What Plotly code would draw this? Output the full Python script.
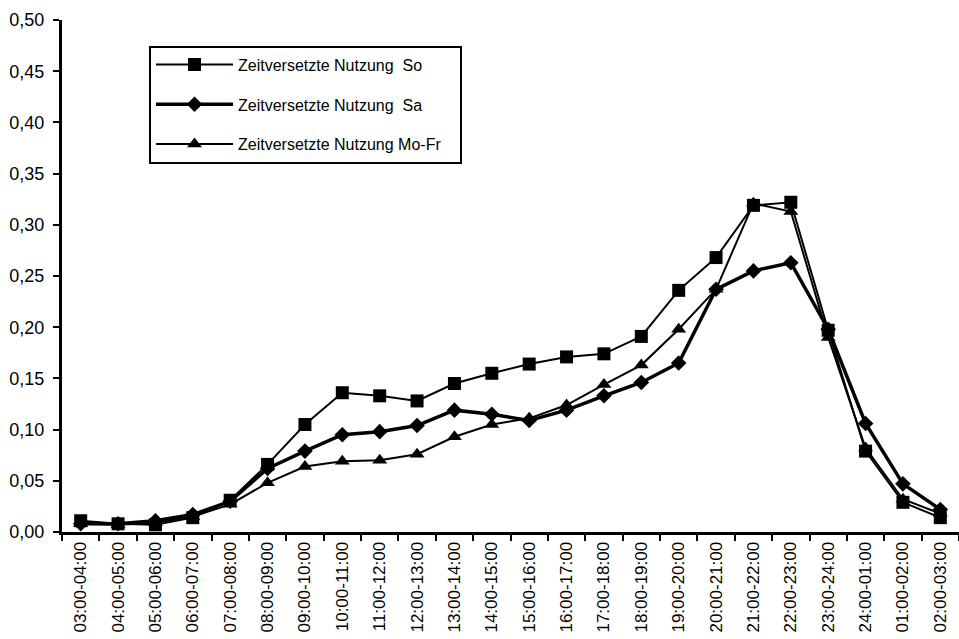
import plotly.graph_objects as go

# Time slots (hourly intervals starting at 03:00)
slots = [
    "03:00-04:00", "04:00-05:00", "05:00-06:00", "06:00-07:00", "07:00-08:00",
    "08:00-09:00", "09:00-10:00", "10:00-11:00", "11:00-12:00", "12:00-13:00",
    "13:00-14:00", "14:00-15:00", "15:00-16:00", "16:00-17:00", "17:00-18:00",
    "18:00-19:00", "19:00-20:00", "20:00-21:00", "21:00-22:00", "22:00-23:00",
    "23:00-24:00", "24:00-01:00", "01:00-02:00", "02:00-03:00",
]

# Share of time-shifted usage per slot
sonntag = [0.011, 0.008, 0.007, 0.014, 0.031, 0.066, 0.105, 0.136, 0.133, 0.128,
           0.145, 0.155, 0.164, 0.171, 0.174, 0.191, 0.236, 0.268, 0.319, 0.322,
           0.197, 0.079, 0.029, 0.014]
samstag = [0.008, 0.008, 0.011, 0.017, 0.030, 0.062, 0.079, 0.095, 0.098, 0.104,
           0.119, 0.115, 0.109, 0.119, 0.133, 0.146, 0.165, 0.237, 0.255, 0.263,
           0.198, 0.106, 0.047, 0.022]
mofr = [0.008, 0.007, 0.009, 0.015, 0.027, 0.048, 0.064, 0.069, 0.070, 0.076,
        0.093, 0.105, 0.111, 0.124, 0.144, 0.163, 0.198, 0.237, 0.321, 0.313,
        0.190, 0.082, 0.032, 0.018]

y_ticks = [0.0, 0.05, 0.10, 0.15, 0.20, 0.25, 0.30, 0.35, 0.40, 0.45, 0.50]

FONT = "Liberation Sans, Arial, sans-serif"
NB = "\u00a0"
PAD = NB * 3

fig = go.Figure()

# Drawn bottom-up so the Sunday squares sit on top
fig.add_trace(go.Scatter(
    x=slots, y=mofr, mode="lines+markers",
    name="Zeitversetzte Nutzung Mo-Fr" + PAD, legendgroup="mofr", legendrank=3,
    line=dict(color="black", width=2),
    marker=dict(symbol="triangle-up", size=13, color="black"),
))
fig.add_trace(go.Scatter(
    x=slots, y=samstag, mode="lines+markers",
    name="Zeitversetzte Nutzung" + NB + NB + "Sa", legendgroup="sa", legendrank=2,
    line=dict(color="black", width=3.5),
    marker=dict(symbol="diamond", size=12, color="black"),
))
fig.add_trace(go.Scatter(
    x=slots, y=sonntag, mode="lines+markers",
    name="Zeitversetzte Nutzung" + NB + NB + "So", legendgroup="so", legendrank=1,
    line=dict(color="black", width=2),
    marker=dict(symbol="square", size=13, color="black"),
))

fig.update_layout(
    width=959, height=639,
    margin=dict(l=62, r=0, t=20, b=107),
    paper_bgcolor="white", plot_bgcolor="white",
    separators=",.",
    font=dict(family=FONT, size=14, color="black"),
    showlegend=True,
    legend=dict(
        x=0.097, y=0.95, xanchor="left", yanchor="top",
        bgcolor="white", bordercolor="black", borderwidth=2,
        traceorder="grouped", tracegroupgap=16,
        font=dict(family=FONT, size=16, color="black"),
        itemwidth=77,
    ),
    xaxis=dict(
        type="category", range=[-0.5, 23.5],
        showgrid=False, showline=True, linecolor="black", linewidth=3,
        ticks="outside", ticklen=6, tickwidth=2, tickcolor="black",
        tickson="boundaries", tickangle=-90,
        tickfont=dict(family=FONT, size=17, color="black"),
        zeroline=False,
    ),
    yaxis=dict(
        range=[0, 0.5], tickvals=y_ticks, tickformat=".2f",
        showgrid=False, showline=True, linecolor="black", linewidth=3,
        ticks="outside", ticklen=6, tickwidth=2, tickcolor="black",
        ticklabelstandoff=5,
        tickfont=dict(family=FONT, size=18, color="black"),
        zeroline=False,
    ),
)

fig.write_html("out.html")
